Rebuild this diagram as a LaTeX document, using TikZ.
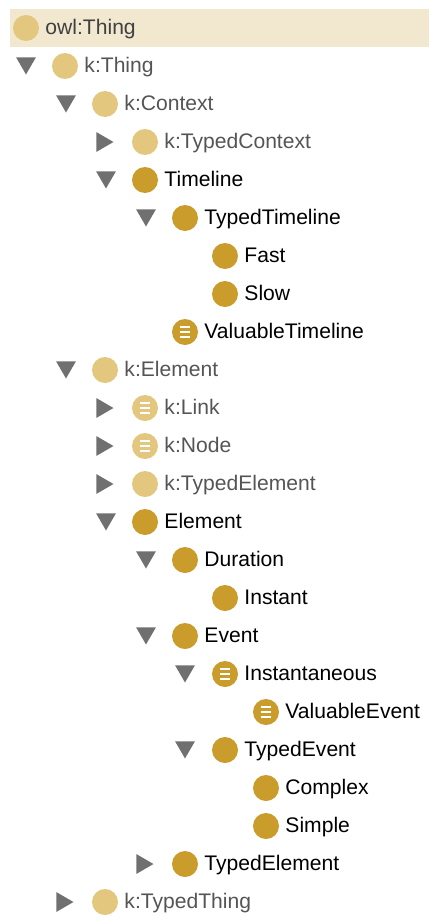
\documentclass[tikz,border=0pt]{standalone}
\usepackage{xcolor}
\usepackage{fontspec}
\setmainfont{Liberation Sans}
\usetikzlibrary{positioning, shapes.geometric}
\definecolor{classgold}{HTML}{CA9C2B}
\definecolor{importgold}{HTML}{E3C77F}
\definecolor{rowband}{HTML}{F1E8CF}
\definecolor{arrowgrey}{HTML}{707070}
\definecolor{importtext}{HTML}{555555}
\tikzset{
	cls/.style = {circle, fill = classgold, minimum size = 0.78cm, inner sep = 0pt},
	imp/.style = {circle, fill = importgold, minimum size = 0.78cm, inner sep = 0pt},
	eqv/.style = {path picture = {
		\draw[white, line width = 0.065cm] ([xshift = -0.14cm, yshift = 0.14cm]path picture bounding box.center) -- ++(0.28cm, 0);
		\draw[white, line width = 0.065cm] ([xshift = -0.14cm]path picture bounding box.center) -- ++(0.28cm, 0);
		\draw[white, line width = 0.065cm] ([xshift = -0.14cm, yshift = -0.14cm]path picture bounding box.center) -- ++(0.28cm, 0);
	}},
	lbl/.style = {font = \fontsize{18}{20}\selectfont, inner sep = 0pt, text height = 0.45cm, text depth = 0.12cm, yshift = -0.03cm},
	grey/.style = {lbl, text = importtext},
	open/.style = {regular polygon, regular polygon sides = 3, shape border rotate = 180, fill = arrowgrey, minimum size = 0.69cm, inner sep = 0pt},
	shut/.style = {regular polygon, regular polygon sides = 3, shape border rotate = -90, fill = arrowgrey, minimum size = 0.69cm, inner sep = 0pt}
}

\begin{document}
\begin{tikzpicture}
	\useasboundingbox (0,0) rectangle (12.87,-27.48);
	
	\node[fill = rowband, minimum width = 12.57cm, minimum height = 1.14cm, inner sep = 0pt, xshift = 6.585cm, yshift = -0.84cm] (band) {};
	
	\node[imp, xshift = 0.78cm, yshift = -0.84cm] (owl) {};
	\node[grey, text = black!75, right = 0.18cm of owl] (owlT) {owl:Thing};
	
	\node[open, xshift = 0.78cm, yshift = -1.89cm] (a1) {};
	\node[imp, xshift = 1.95cm, yshift = -1.98cm] (kthing) {};
	\node[grey, right = 0.18cm of kthing] (kthingT) {k:Thing};
	
	\node[open, xshift = 1.98cm, yshift = -3.03cm] (a2) {};
	\node[imp, xshift = 3.15cm, yshift = -3.12cm] (kcontext) {};
	\node[grey, right = 0.18cm of kcontext] (kcontextT) {k:Context};
	
	\node[shut, xshift = 3.06cm, yshift = -4.26cm] (a3) {};
	\node[imp, xshift = 4.35cm, yshift = -4.26cm] (ktypedcontext) {};
	\node[grey, right = 0.18cm of ktypedcontext] (ktypedcontextT) {k:TypedContext};
	
	\node[open, xshift = 3.18cm, yshift = -5.31cm] (a4) {};
	\node[cls, xshift = 4.35cm, yshift = -5.40cm] (timeline) {};
	\node[lbl, right = 0.18cm of timeline] (timelineT) {Timeline};
	
	\node[open, xshift = 4.38cm, yshift = -6.45cm] (a5) {};
	\node[cls, xshift = 5.55cm, yshift = -6.54cm] (typedtimeline) {};
	\node[lbl, right = 0.18cm of typedtimeline] (typedtimelineT) {TypedTimeline};
	
	\node[cls, xshift = 6.75cm, yshift = -7.68cm] (fast) {};
	\node[lbl, right = 0.18cm of fast] (fastT) {Fast};
	\node[cls, xshift = 6.75cm, yshift = -8.82cm] (slow) {};
	\node[lbl, right = 0.18cm of slow] (slowT) {Slow};
	
	\node[cls, eqv, xshift = 5.55cm, yshift = -9.96cm] (valtimeline) {};
	\node[lbl, right = 0.18cm of valtimeline] (valtimelineT) {ValuableTimeline};
	
	\node[open, xshift = 1.98cm, yshift = -11.01cm] (a6) {};
	\node[imp, xshift = 3.15cm, yshift = -11.10cm] (kelement) {};
	\node[grey, right = 0.18cm of kelement] (kelementT) {k:Element};
	
	\node[shut, xshift = 3.06cm, yshift = -12.24cm] (a7) {};
	\node[imp, eqv, xshift = 4.35cm, yshift = -12.24cm] (klink) {};
	\node[grey, right = 0.18cm of klink] (klinkT) {k:Link};
	
	\node[shut, xshift = 3.06cm, yshift = -13.38cm] (a8) {};
	\node[imp, eqv, xshift = 4.35cm, yshift = -13.38cm] (knode) {};
	\node[grey, right = 0.18cm of knode] (knodeT) {k:Node};
	
	\node[shut, xshift = 3.06cm, yshift = -14.52cm] (a9) {};
	\node[imp, xshift = 4.35cm, yshift = -14.52cm] (ktypedelement) {};
	\node[grey, right = 0.18cm of ktypedelement] (ktypedelementT) {k:TypedElement};
	
	\node[open, xshift = 3.18cm, yshift = -15.57cm] (a10) {};
	\node[cls, xshift = 4.35cm, yshift = -15.66cm] (element) {};
	\node[lbl, right = 0.18cm of element] (elementT) {Element};
	
	\node[open, xshift = 4.38cm, yshift = -16.71cm] (a11) {};
	\node[cls, xshift = 5.55cm, yshift = -16.80cm] (duration) {};
	\node[lbl, right = 0.18cm of duration] (durationT) {Duration};
	
	\node[cls, xshift = 6.75cm, yshift = -17.94cm] (instant) {};
	\node[lbl, right = 0.18cm of instant] (instantT) {Instant};
	
	\node[open, xshift = 4.38cm, yshift = -18.99cm] (a12) {};
	\node[cls, xshift = 5.55cm, yshift = -19.08cm] (event) {};
	\node[lbl, right = 0.18cm of event] (eventT) {Event};
	
	\node[open, xshift = 5.55cm, yshift = -20.13cm] (a13) {};
	\node[cls, eqv, xshift = 6.75cm, yshift = -20.22cm] (instantaneous) {};
	\node[lbl, right = 0.18cm of instantaneous] (instantaneousT) {Instantaneous};
	
	\node[cls, eqv, xshift = 7.98cm, yshift = -21.36cm] (valevent) {};
	\node[lbl, right = 0.18cm of valevent] (valeventT) {ValuableEvent};
	
	\node[open, xshift = 5.55cm, yshift = -22.41cm] (a14) {};
	\node[cls, xshift = 6.75cm, yshift = -22.50cm] (typedevent) {};
	\node[lbl, right = 0.18cm of typedevent] (typedeventT) {TypedEvent};
	
	\node[cls, xshift = 7.98cm, yshift = -23.64cm] (complex) {};
	\node[lbl, right = 0.18cm of complex] (complexT) {Complex};
	\node[cls, xshift = 7.98cm, yshift = -24.78cm] (simple) {};
	\node[lbl, right = 0.18cm of simple] (simpleT) {Simple};
	
	\node[shut, xshift = 4.26cm, yshift = -25.92cm] (a15) {};
	\node[cls, xshift = 5.55cm, yshift = -25.92cm] (typedelement) {};
	\node[lbl, right = 0.18cm of typedelement] (typedelementT) {TypedElement};
	
	\node[shut, xshift = 1.86cm, yshift = -27.06cm] (a16) {};
	\node[imp, xshift = 3.15cm, yshift = -27.06cm] (ktypedthing) {};
	\node[grey, right = 0.18cm of ktypedthing] (ktypedthingT) {k:TypedThing};
\end{tikzpicture}
\end{document}
